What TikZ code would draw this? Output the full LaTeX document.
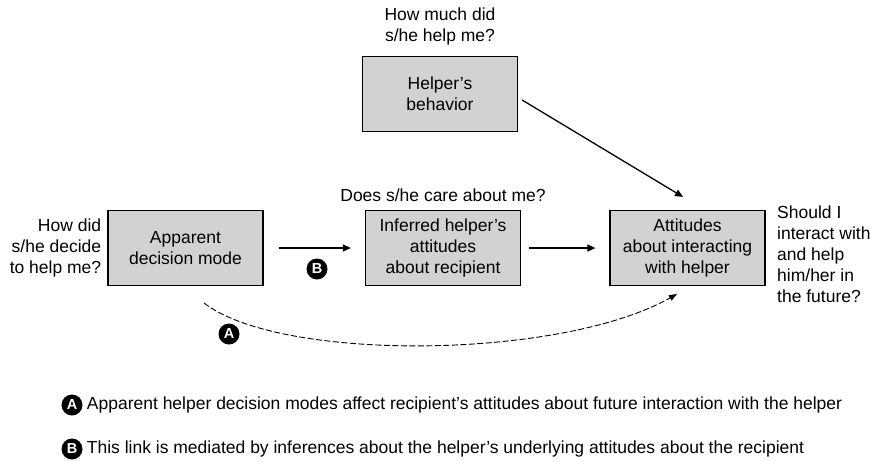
\documentclass[tikz,border=0pt]{standalone}
\usepackage{fontspec}
\setmainfont{Liberation Sans}
\usetikzlibrary{positioning,arrows.meta}
\definecolor{boxgray}{RGB}{210,210,210}

\begin{document}
\begin{tikzpicture}[x=1pt,y=-1pt,
    box/.style={draw,line width=1.2pt,fill=boxgray,minimum width=155pt,minimum height=75pt,
      align=center,font=\fontsize{17.5}{21}\selectfont},
    question/.style={inner sep=0pt,font=\fontsize{17.5}{21}\selectfont},
    badge/.style={circle,fill=black,text=white,inner sep=0pt,minimum size=21pt,
      font=\fontsize{14.5}{14.5}\selectfont\bfseries},
    link/.style={line width=1.3pt,-{Triangle[length=8pt,width=7pt]}}]
  \useasboundingbox (0,0) rectangle (870,461);
  % boxes
  \node[box] (mode) at (185.5,248) {Apparent\\decision mode};
  \node[box] (infer) at (443,248) {Inferred helper’s\\attitudes\\about recipient};
  \node[box] (attit) at (687.5,248) {Attitudes\\about interacting\\with helper};
  \node[box] (behav) at (440,94) {Helper’s\\behavior};
  % questions
  \node[question,align=right,left=6pt of mode] (qmode) {How did\\s/he decide\\to help me?};
  \node[question,align=center,above=8pt of infer] (qinfer) {Does s/he care about me?};
  \node[question,align=center,above=11pt of behav] (qbehav) {How much did\\s/he help me?};
  \node[question,align=left,anchor=west] (qattit) at (777,254) {Should I\\interact with\\and help\\him/her in\\the future?};
  % links
  \draw[link] ([xshift=15pt]mode.east) -- ([xshift=-14pt]infer.west);
  \draw[link] ([xshift=8pt]infer.east) -- ([xshift=-14pt]attit.west);
  \draw[link] ([shift={(4pt,-6pt)}]behav.east) -- ([shift={(-4.5pt,13pt)}]attit.north);
  \coordinate (dashstart) at (204,303);
  \coordinate (dashend) at (677,294);
  \draw[line width=0.9pt,dash pattern=on 6pt off 2.5pt,-{Triangle[length=8pt,width=6pt]}]
    (dashstart) .. controls (280,362) and (560,360) .. (dashend);
  \node[badge] (bB) at (317,269) {B};
  \node[badge] (bA) at (229,334) {A};
  % key
  \node[badge] (kA) at (72,405) {A};
  \node[question,right=4pt of kA] (lA) {Apparent helper decision modes affect recipient’s attitudes about future interaction with the helper};
  \node[badge] (kB) at (72,449) {B};
  \node[question,right=4pt of kB] (lB) {This link is mediated by inferences about the helper’s underlying attitudes about the recipient};
\end{tikzpicture}
\end{document}
